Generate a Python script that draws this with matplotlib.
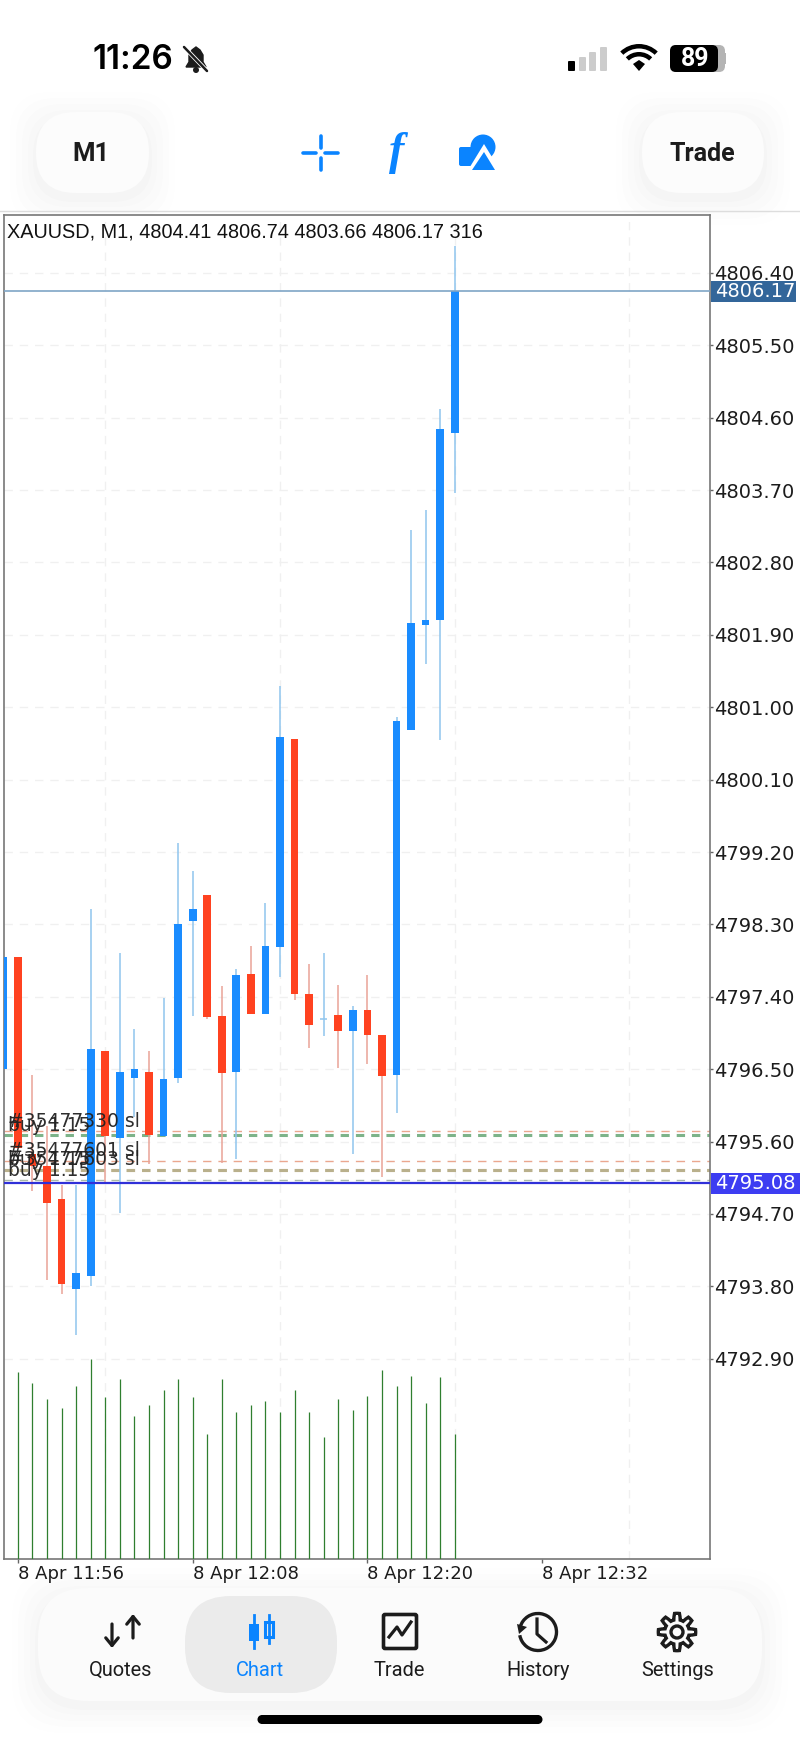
import numpy as np
import matplotlib
matplotlib.use('Agg')
import matplotlib.pyplot as plt
from matplotlib.patches import FancyBboxPatch, Rectangle, Circle, Polygon, Wedge, Arc, Ellipse

# candles, oldest first (first one is cut by the left edge)
bar_idx = list(range(-1, 31))
opens = [4796.50, 4797.90, 4795.45, 4795.29, 4794.88, 4793.77, 4793.93, 4796.73, 4795.65, 4796.39, 4796.47,
         4795.67, 4796.39, 4798.34, 4798.66, 4797.16, 4796.46, 4797.68, 4797.19, 4798.02, 4800.60, 4797.43,
         4797.12, 4797.17, 4796.97, 4797.23, 4796.93, 4796.43, 4800.72, 4802.02, 4802.08, 4804.41]
closes = [4797.90, 4795.52, 4795.29, 4794.83, 4793.83, 4793.97, 4796.75, 4795.67, 4796.47, 4796.50, 4795.68,
          4796.38, 4798.30, 4798.49, 4797.15, 4796.45, 4797.67, 4797.18, 4798.03, 4800.63, 4797.44, 4797.05,
          4797.12, 4796.97, 4797.24, 4796.93, 4796.42, 4800.83, 4802.05, 4802.09, 4804.46, 4806.17]
highs = [4797.90, 4797.90, 4796.43, 4795.79, 4795.06, 4795.06, 4798.49, 4796.73, 4797.94, 4797.00, 4796.73,
         4797.39, 4799.31, 4798.97, 4798.66, 4797.54, 4797.74, 4798.03, 4798.57, 4801.27, 4800.60, 4797.81,
         4797.95, 4797.55, 4797.28, 4797.67, 4796.93, 4800.88, 4803.20, 4803.45, 4804.71, 4806.74]
lows = [4796.50, 4795.52, 4794.98, 4793.88, 4793.70, 4793.19, 4793.80, 4795.08, 4794.71, 4795.91, 4795.32,
        4795.67, 4796.33, 4797.16, 4797.13, 4795.33, 4795.38, 4797.18, 4797.19, 4797.65, 4797.36, 4796.76,
        4796.91, 4796.51, 4795.45, 4796.57, 4795.16, 4795.95, 4800.72, 4801.54, 4800.59, 4803.66]

vol_idx = list(range(0, 31))
volumes = [473, 446, 404, 381, 437, 506, 409, 454, 362, 390, 427, 454, 409, 316, 454, 372,
           390, 399, 372, 427, 372, 308, 404, 377, 413, 478, 437, 463, 395, 459, 316]

price_ticks = [4806.40, 4805.50, 4804.60, 4803.70, 4802.80, 4801.90, 4801.00, 4800.10, 4799.20,
               4798.30, 4797.40, 4796.50, 4795.60, 4794.70, 4793.80, 4792.90]
time_ticks = [0, 12, 24, 36]
time_labels = ['8 Apr 11:56', '8 Apr 12:08', '8 Apr 12:20', '8 Apr 12:32']
grid_ticks = [0, 6, 12, 18, 24, 30, 36, 42]

# order levels: price, label, colour, line width
level_prices = [4795.73, 4795.68, 4795.36, 4795.25, 4795.25, 4795.12]
level_labels = ['#35477330 sl', 'buy 1.15', '#35477601 sl', '#35477603 sl', 'buy 1.15', 'buy 1.15']
level_colors = ['#eaa78f', '#7db389', '#eaa78f', '#b9b08c', '#b9b08c', '#a9baa9']
level_widths = [1, 2.2, 1, 2.2, 2.2, 1]

last_price = 4806.17
bid_price = 4795.08
header = 'XAUUSD, M1, 4804.41 4806.74 4803.66 4806.17 316'

BLUE = '#1a8cff'
RED = '#ff4220'
BLUE_WICK = '#8fc5ee'
RED_WICK = '#e9a397'
DARK = '#1c1c1c'
TAB_BLUE = '#0a84ff'
GRID = '#f0f0f0'

W, H = 800, 1739
fig = plt.figure(figsize=(W / 100, H / 100), dpi=100, facecolor='white')

# phone screen around the chart, in pixels
ui = fig.add_axes([0, 0, 1, 1], zorder=0)
ui.set_xlim(0, W)
ui.set_ylim(H, 0)
ui.axis('off')


def pill(x0, y0, x1, y1, r, color, shadow=True):
    if shadow:
        for grow, a in [(26, 0.004), (20, 0.006), (14, 0.007), (8, 0.008), (3, 0.010)]:
            ui.add_patch(FancyBboxPatch((x0 - grow + r, y0 - grow + 6 + r), x1 - x0 + 2 * grow - 2 * r,
                                        y1 - y0 + 2 * grow - 2 * r, boxstyle='round,pad=%d' % r,
                                        fc='black', ec='none', alpha=a))
    ui.add_patch(FancyBboxPatch((x0 + r, y0 + r), x1 - x0 - 2 * r, y1 - y0 - 2 * r,
                                boxstyle='round,pad=%d' % r, fc=color, ec='none'))


# top bar
ui.text(133, 60, '11:26', family='Inter', weight=600, fontsize=24, color='black', ha='center', va='center')
ui.add_patch(Polygon([(186, 67), (189, 62), (189, 55), (192, 50), (196, 47), (200, 50), (203, 55), (203, 62), (206, 67)],
                     fc=DARK, ec=DARK, lw=1))
ui.add_patch(Circle((196, 70), 3, fc=DARK, ec='none'))
ui.plot([186, 209], [49, 73], color='white', lw=3, solid_capstyle='round')
ui.plot([184, 207], [47, 71], color=DARK, lw=1.8, solid_capstyle='round')
for x, top, c in [(568, 61, 'black'), (579, 57, '#cccccc'), (589, 52, '#cccccc'), (600, 47, '#cccccc')]:
    ui.add_patch(FancyBboxPatch((x + 1, top + 1), 5, 70 - top - 1, boxstyle='round,pad=1', fc=c, ec='none'))
ui.add_patch(Polygon([(639, 71), (633, 64), (639, 60), (645, 64)], fc='black', ec='none'))
ui.add_patch(Wedge((639, 71), 19, 226, 314, width=4.5, fc='black', ec='none'))
ui.add_patch(Wedge((639, 71), 27, 226, 314, width=4.5, fc='black', ec='none'))
ui.add_patch(FancyBboxPatch((676, 51), 43, 15, boxstyle='round,pad=6', fc='#b4b4b4', ec='none'))
ui.add_patch(FancyBboxPatch((676, 51), 36, 15, boxstyle='round,pad=6', fc='black', ec='none'))
ui.add_patch(Rectangle((724, 53), 1.5, 11, fc='#b4b4b4', ec='none'))
ui.text(695, 59.5, '89', family='Roboto', weight='bold', fontsize=18, color='white', ha='center', va='center')

pill(36, 112, 149, 193, 40, '#fcfcfc')
pill(642, 112, 764, 193, 40, '#fcfcfc')
ui.text(91, 154, 'M1', family='Roboto', weight='bold', fontsize=18.5, color=DARK, ha='center', va='center')
ui.text(702, 154, 'Trade', family='Roboto', weight='bold', fontsize=18, color=DARK, ha='center', va='center')

ui.plot([303, 316], [153, 153], color=TAB_BLUE, lw=2.6, solid_capstyle='round')
ui.plot([325, 338], [153, 153], color=TAB_BLUE, lw=2.6, solid_capstyle='round')
ui.plot([320.5, 320.5], [136, 148], color=TAB_BLUE, lw=2.6, solid_capstyle='round')
ui.plot([320.5, 320.5], [158, 170], color=TAB_BLUE, lw=2.6, solid_capstyle='round')
ui.text(397, 153, 'f', family='Liberation Serif', style='italic', weight='bold', fontsize=33, color=TAB_BLUE,
        ha='center', va='center')
ui.add_patch(FancyBboxPatch((461, 149), 16, 15, boxstyle='round,pad=2', fc=TAB_BLUE, ec='none'))
ui.add_patch(Ellipse((483, 147), 25, 25, fc=TAB_BLUE, ec='none'))
ui.add_patch(Polygon([(465, 175), (484, 144), (503, 175)], fc='white', ec='none'))
ui.add_patch(Polygon([(472, 170), (484, 152), (495, 170)], fc=TAB_BLUE, ec='none'))

ui.plot([0, W], [211, 211], color='#dddddd', lw=1)

# bottom tab bar
pill(38, 1588, 762, 1701, 50, '#fbfbfb')
pill(185, 1596, 337, 1693, 46, '#ebebeb', shadow=False)
ui.add_patch(Rectangle((262, 1715), 276, 9, fc='black', ec='none'))
ui.add_patch(Circle((262, 1719.5), 4.5, fc='black', ec='none'))
ui.add_patch(Circle((538, 1719.5), 4.5, fc='black', ec='none'))

tab_names = ['Quotes', 'Chart', 'Trade', 'History', 'Settings']
tab_x = [121, 260, 399, 538, 677.5]
for name, x in zip(tab_names, tab_x):
    ui.text(x, 1670, name, family='Roboto', weight=400, fontsize=14.4, ha='center', va='center',
            color=TAB_BLUE if name == 'Chart' else DARK)

# quotes icon
ui.annotate('', xy=(133, 1614), xytext=(133, 1638), arrowprops=dict(arrowstyle='->,head_width=0.45,head_length=0.55', color=DARK, lw=2.3, shrinkA=0, shrinkB=0))
ui.annotate('', xy=(112, 1648), xytext=(112, 1624), arrowprops=dict(arrowstyle='->,head_width=0.45,head_length=0.55', color=DARK, lw=2.3, shrinkA=0, shrinkB=0))
# chart icon
ui.plot([253.5, 253.5], [1615, 1648], color=TAB_BLUE, lw=2)
ui.add_patch(Rectangle((248.5, 1624), 10, 17, fc=TAB_BLUE, ec='none'))
ui.plot([269, 269], [1615, 1643], color=TAB_BLUE, lw=2)
ui.add_patch(Rectangle((265, 1622), 8, 15, fc='#ebebeb', ec=TAB_BLUE, lw=2.2))
# trade icon
ui.add_patch(FancyBboxPatch((385, 1616), 30, 31, boxstyle='round,pad=1.5', fc='none', ec=DARK, lw=2.6))
ui.plot([389, 397, 402, 411], [1637, 1627, 1635, 1622], color=DARK, lw=2.3)
# history icon
ui.add_patch(Arc((538, 1632), 37, 37, theta1=0, theta2=335, angle=180 + 15, ec=DARK, lw=2.4))
ui.add_patch(Polygon([(517, 1624), (527, 1627), (519, 1634)], fc=DARK, ec='none'))
ui.plot([537, 537, 546], [1619, 1634, 1642], color=DARK, lw=2.3)
# settings icon
angles = np.linspace(0, 2 * np.pi, 97)
radii = 15.5 + 3.2 * np.clip(2.2 * np.cos(8 * angles), -1, 1)
ui.add_patch(Polygon(np.c_[677 + radii * np.cos(angles), 1632 + radii * np.sin(angles)], fc='none', ec=DARK, lw=2.4))
ui.add_patch(Circle((677, 1632), 6, fc='none', ec=DARK, lw=2.4))

# the chart itself
left, right, top, bottom = 3.5, 710, 215, 1559
ax = fig.add_axes([left / W, 1 - bottom / H, (right - left) / W, (bottom - top) / H], zorder=1)
ax.set_xlim(-0.99, 47.53)
ax.set_ylim(4790.41, 4807.12)

ax.set_yticks(price_ticks)
ax.set_yticklabels(['%.2f' % p for p in price_ticks])
ax.set_xticks(time_ticks)
ax.set_xticklabels(time_labels, ha='left')
ax.set_xticks(grid_ticks, minor=True)
ax.tick_params(axis='x', which='major', length=3, width=1, color='#666666', labelsize=13, labelcolor=DARK, pad=1.5)
ax.tick_params(axis='x', which='minor', length=0)
ax.grid(True, axis='y', color=GRID, lw=1, ls=(0, (6, 5)))
ax.grid(True, axis='x', which='minor', color=GRID, lw=1, ls=(0, (6, 5)))
ax.set_axisbelow(True)
for s in ax.spines.values():
    s.set_color('#777777')
    s.set_linewidth(1.2)

# trade levels and their labels
for price, label, color, lw in zip(level_prices, level_labels, level_colors, level_widths):
    ax.axhline(price, color=color, lw=lw, ls=(0, (6 / lw, 5 / lw)), zorder=2)

# candles
for i, o, c, h, l in zip(bar_idx, opens, closes, highs, lows):
    up = c >= o
    ax.vlines(i, l, h, color=BLUE_WICK if up else RED_WICK, lw=1.1, zorder=3)
    if o == c:
        ax.hlines(o, i - 0.26, i + 0.26, color=BLUE_WICK, lw=1.1, zorder=3)
    else:
        ax.bar(i, abs(c - o), bottom=min(o, c), width=0.53, color=BLUE if up else RED, zorder=4)

ax.axhline(last_price, color='#7fa5c6', lw=1.2, zorder=5)
ax.axhline(bid_price, color='#3030d8', lw=1.6, zorder=5)

for price, label in zip(level_prices, level_labels):
    ax.annotate(label, xy=(0.0065, price), xycoords=ax.get_yaxis_transform(), xytext=(0, 3.2),
                textcoords='offset points', va='baseline', ha='left', fontsize=13.5, color='#222222', alpha=0.95, zorder=6)

ax.text(0.005, 0.9945, header, transform=ax.transAxes, family='Liberation Sans', fontsize=14.3, color='#111111',
        ha='left', va='top', zorder=7)

# volumes share the x axis, small bars at the bottom of the pane
ax_vol = ax.twinx()
ax_vol.set_ylim(0, 3398)
ax_vol.vlines(vol_idx, 0, volumes, color='#2f7f2f', lw=0.9)
ax_vol.set_yticks([])
ax_vol.patch.set_visible(False)
for s in ax_vol.spines.values():
    s.set_visible(False)

ax.yaxis.tick_right()
ax.tick_params(axis='y', length=2, width=1, color='#666666', labelsize=14, labelcolor=DARK, pad=1)

# price tags sit over the scale
tr = ax.get_yaxis_transform()
ax.add_patch(Rectangle((1.0012, last_price - 0.131), 0.1208, 0.262, transform=tr, fc='#33669a', ec='none', clip_on=False, zorder=8))
ax.add_patch(Rectangle((1.0012, bid_price - 0.131), 0.126, 0.262, transform=tr, fc='#3d3df2', ec='none', clip_on=False, zorder=8))
tick_x = (715 - left) / (right - left)
for price, tag in [(last_price, '%.2f' % last_price), (bid_price, '%.2f' % bid_price)]:
    ax.text(tick_x, price, tag, transform=tr, color='white', fontsize=14, ha='left', va='center', clip_on=False, zorder=9)

fig.savefig('out.png', dpi=100)
